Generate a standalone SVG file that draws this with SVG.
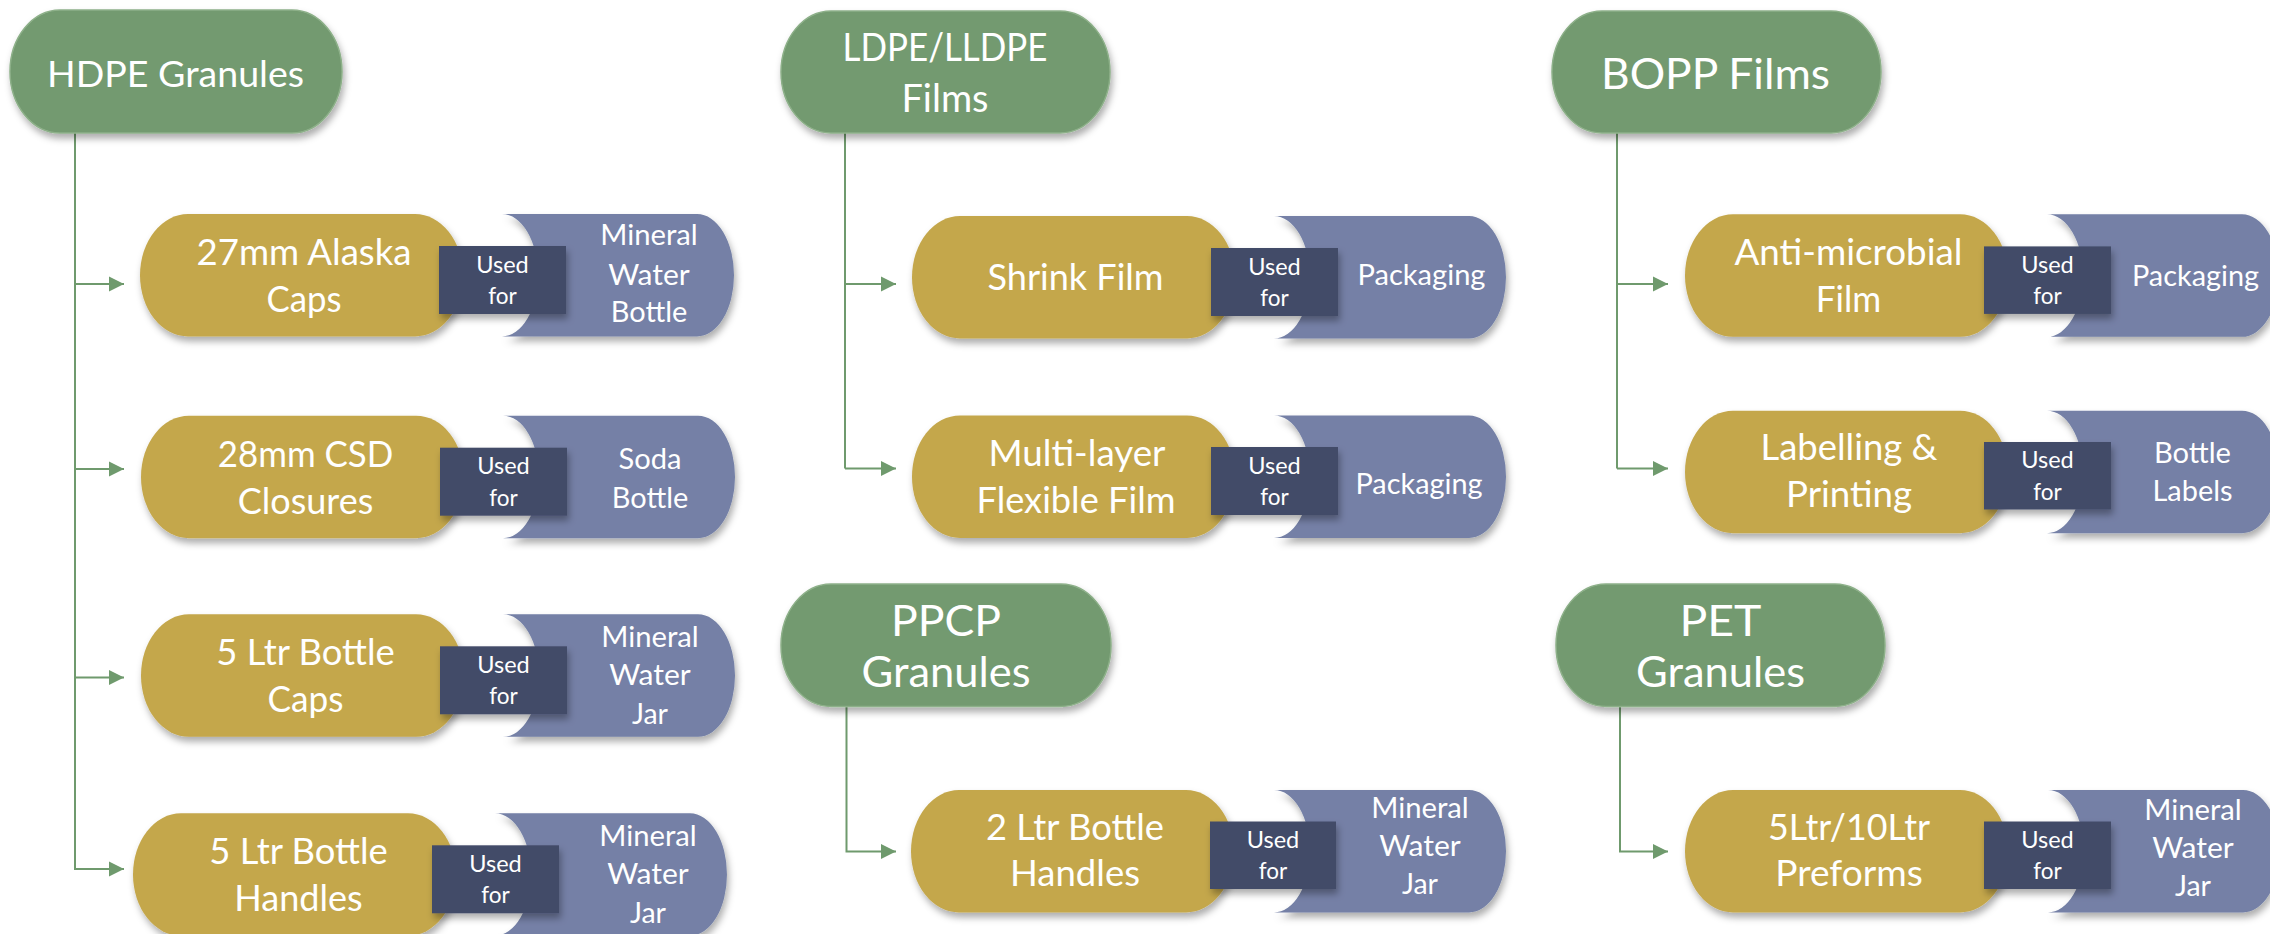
<svg xmlns="http://www.w3.org/2000/svg" width="2270" height="934" viewBox="0 0 2270 934">
<defs>
<style>
.hdr{fill:#739A70;stroke:#8DB089;stroke-width:1.5}
.gold{fill:#C4A74C}
.blue{fill:#7480A6}
.box{fill:#424B68}
.t{font-family:Lato,"Liberation Sans",sans-serif;fill:#FFFFFF;text-anchor:middle}
.tg{font-size:37px}
.tb{font-size:29px}
.tu{font-size:23.5px}
.con{fill:none;stroke:#6F9A6D;stroke-width:2}
</style>
<filter id="sh" x="-10%" y="-10%" width="125%" height="140%">
<feDropShadow dx="2" dy="5" stdDeviation="3.5" flood-color="#000" flood-opacity="0.32"/>
</filter>
<marker id="ah" markerUnits="userSpaceOnUse" markerWidth="16" markerHeight="16" refX="15" refY="8" orient="auto">
<path d="M0,0.5 L15,8 L0,15.5 Z" fill="#6F9A6D"/>
</marker>
</defs>
<rect width="2270" height="934" fill="#FFFFFF"/>

<g id="connectors">
<path class="con" d="M75,133 V869 H108"/>
<path class="con" d="M75,284 H124" marker-end="url(#ah)"/>
<path class="con" d="M75,469 H124" marker-end="url(#ah)"/>
<path class="con" d="M75,677.5 H124" marker-end="url(#ah)"/>
<path class="con" d="M75,869 H124" marker-end="url(#ah)"/>
<path class="con" d="M845,133 V468.6"/>
<path class="con" d="M845,284 H896" marker-end="url(#ah)"/>
<path class="con" d="M845,468.6 H896" marker-end="url(#ah)"/>
<path class="con" d="M1617,133 V468.6"/>
<path class="con" d="M1617,284 H1668" marker-end="url(#ah)"/>
<path class="con" d="M1617,468.6 H1668" marker-end="url(#ah)"/>
<path class="con" d="M846.5,706 V851.5 H896" marker-end="url(#ah)"/>
<path class="con" d="M1620,706 V851.5 H1668" marker-end="url(#ah)"/>
</g>

<g id="hdpe">
<rect class="hdr" filter="url(#sh)" x="10" y="10" width="332" height="123" rx="50" ry="61.5"/>
<text class="t" font-size="37" x="175.5" y="87" textLength="257" lengthAdjust="spacingAndGlyphs">HDPE Granules</text>
</g>
<g id="ldpe">
<rect class="hdr" filter="url(#sh)" x="781" y="11" width="329" height="122" rx="50" ry="61"/>
<text class="t" font-size="39" x="945" y="61" textLength="205" lengthAdjust="spacingAndGlyphs">LDPE/LLDPE</text>
<text class="t" font-size="39" x="945" y="112" textLength="87" lengthAdjust="spacingAndGlyphs">Films</text>
</g>
<g id="bopp">
<rect class="hdr" filter="url(#sh)" x="1552" y="11" width="329" height="122" rx="50" ry="61"/>
<text class="t" font-size="42" x="1715.5" y="88.5" textLength="229" lengthAdjust="spacingAndGlyphs">BOPP Films</text>
</g>
<g id="ppcp">
<rect class="hdr" filter="url(#sh)" x="781" y="584" width="330" height="122.5" rx="50" ry="61"/>
<text class="t" font-size="42" x="946" y="635.5" textLength="110" lengthAdjust="spacingAndGlyphs">PPCP</text>
<text class="t" font-size="42" x="946" y="687" textLength="169" lengthAdjust="spacingAndGlyphs">Granules</text>
</g>
<g id="pet">
<rect class="hdr" filter="url(#sh)" x="1556" y="584" width="329" height="122.5" rx="50" ry="61"/>
<text class="t" font-size="42" x="1720.5" y="635.5" textLength="82" lengthAdjust="spacingAndGlyphs">PET</text>
<text class="t" font-size="42" x="1720.5" y="687" textLength="169" lengthAdjust="spacingAndGlyphs">Granules</text>
</g>

<g id="alaska">
<rect class="gold" filter="url(#sh)" x="140" y="214" width="323" height="122.5" rx="48" ry="61.25"/>
<path class="blue" filter="url(#sh)" d="M502,214 H697 A37,61.25 0 0 1 697,336.5 H502 A36,61.25 0 0 0 502,214 Z"/>
<rect class="box" filter="url(#sh)" x="439" y="246" width="127" height="68"/>
<text class="t tg" x="304" y="265" textLength="215" lengthAdjust="spacingAndGlyphs">27mm Alaska</text>
<text class="t tg" x="304" y="311.5" textLength="75" lengthAdjust="spacingAndGlyphs">Caps</text>
<text class="t tu" x="502.5" y="272.5" textLength="52.5" lengthAdjust="spacingAndGlyphs">Used</text>
<text class="t tu" x="502.5" y="304" textLength="28.5" lengthAdjust="spacingAndGlyphs">for</text>
<text class="t tb" x="649" y="245" textLength="97.5" lengthAdjust="spacingAndGlyphs">Mineral</text>
<text class="t tb" x="649" y="284.5" textLength="81.5" lengthAdjust="spacingAndGlyphs">Water</text>
<text class="t tb" x="649" y="322" textLength="76.5" lengthAdjust="spacingAndGlyphs">Bottle</text>
</g>

<g id="csd">
<rect class="gold" filter="url(#sh)" x="141" y="415.7" width="323" height="122.5" rx="48" ry="61.25"/>
<path class="blue" filter="url(#sh)" d="M503,415.7 H698 A37,61.25 0 0 1 698,538.2 H503 A36,61.25 0 0 0 503,415.7 Z"/>
<rect class="box" filter="url(#sh)" x="440" y="447.7" width="127" height="68"/>
<text class="t tg" x="305.5" y="466.7" textLength="175.5" lengthAdjust="spacingAndGlyphs">28mm CSD</text>
<text class="t tg" x="305.5" y="513.5" textLength="135.5" lengthAdjust="spacingAndGlyphs">Closures</text>
<text class="t tu" x="503.5" y="474.4" textLength="52.5" lengthAdjust="spacingAndGlyphs">Used</text>
<text class="t tu" x="503.5" y="505.7" textLength="28.5" lengthAdjust="spacingAndGlyphs">for</text>
<text class="t tb" x="650" y="469" textLength="63" lengthAdjust="spacingAndGlyphs">Soda</text>
<text class="t tb" x="650" y="508" textLength="76.5" lengthAdjust="spacingAndGlyphs">Bottle</text>
</g>

<g id="caps5">
<rect class="gold" filter="url(#sh)" x="141" y="614.3" width="323" height="122.5" rx="48" ry="61.25"/>
<path class="blue" filter="url(#sh)" d="M503,614.3 H698 A37,61.25 0 0 1 698,736.8 H503 A36,61.25 0 0 0 503,614.3 Z"/>
<rect class="box" filter="url(#sh)" x="440" y="646.3" width="127" height="68"/>
<text class="t tg" x="305.5" y="665.3" textLength="178.5" lengthAdjust="spacingAndGlyphs">5 Ltr Bottle</text>
<text class="t tg" x="305.5" y="712" textLength="76" lengthAdjust="spacingAndGlyphs">Caps</text>
<text class="t tu" x="503.5" y="673" textLength="52.5" lengthAdjust="spacingAndGlyphs">Used</text>
<text class="t tu" x="503.5" y="704.3" textLength="28.5" lengthAdjust="spacingAndGlyphs">for</text>
<text class="t tb" x="650" y="646.5" textLength="97.5" lengthAdjust="spacingAndGlyphs">Mineral</text>
<text class="t tb" x="650" y="685" textLength="81.5" lengthAdjust="spacingAndGlyphs">Water</text>
<text class="t tb" x="650" y="723.5" textLength="36" lengthAdjust="spacingAndGlyphs">Jar</text>
</g>

<g id="handles5">
<rect class="gold" filter="url(#sh)" x="133" y="813.3" width="323" height="122.5" rx="48" ry="61.25"/>
<path class="blue" filter="url(#sh)" d="M495,813.3 H690 A37,61.25 0 0 1 690,935.8 H495 A36,61.25 0 0 0 495,813.3 Z"/>
<rect class="box" filter="url(#sh)" x="432" y="845.3" width="127" height="68"/>
<text class="t tg" x="298.5" y="864.3" textLength="178.5" lengthAdjust="spacingAndGlyphs">5 Ltr Bottle</text>
<text class="t tg" x="298.5" y="911" textLength="128.5" lengthAdjust="spacingAndGlyphs">Handles</text>
<text class="t tu" x="495.5" y="872" textLength="52.5" lengthAdjust="spacingAndGlyphs">Used</text>
<text class="t tu" x="495.5" y="903.3" textLength="28.5" lengthAdjust="spacingAndGlyphs">for</text>
<text class="t tb" x="648" y="845.5" textLength="97.5" lengthAdjust="spacingAndGlyphs">Mineral</text>
<text class="t tb" x="648" y="884" textLength="81.5" lengthAdjust="spacingAndGlyphs">Water</text>
<text class="t tb" x="648" y="922.5" textLength="36" lengthAdjust="spacingAndGlyphs">Jar</text>
</g>

<g id="shrink">
<rect class="gold" filter="url(#sh)" x="912" y="216" width="323" height="122.5" rx="48" ry="61.25"/>
<path class="blue" filter="url(#sh)" d="M1274,216 H1469 A37,61.25 0 0 1 1469,338.5 H1274 A36,61.25 0 0 0 1274,216 Z"/>
<rect class="box" filter="url(#sh)" x="1211" y="248" width="127" height="68"/>
<text class="t tg" x="1075.5" y="290" textLength="176" lengthAdjust="spacingAndGlyphs">Shrink Film</text>
<text class="t tu" x="1274.5" y="274.7" textLength="52.5" lengthAdjust="spacingAndGlyphs">Used</text>
<text class="t tu" x="1274.5" y="306" textLength="28.5" lengthAdjust="spacingAndGlyphs">for</text>
<text class="t tb" x="1421.5" y="285" textLength="128" lengthAdjust="spacingAndGlyphs">Packaging</text>
</g>

<g id="multilayer">
<rect class="gold" filter="url(#sh)" x="912" y="415.4" width="323" height="122.5" rx="48" ry="61.25"/>
<path class="blue" filter="url(#sh)" d="M1274,415.4 H1469 A37,61.25 0 0 1 1469,537.9 H1274 A36,61.25 0 0 0 1274,415.4 Z"/>
<rect class="box" filter="url(#sh)" x="1211" y="447" width="127" height="68"/>
<text class="t tg" x="1077" y="465.5" textLength="177" lengthAdjust="spacingAndGlyphs">Multi-layer</text>
<text class="t tg" x="1076" y="512.5" textLength="199" lengthAdjust="spacingAndGlyphs">Flexible Film</text>
<text class="t tu" x="1274.5" y="473.7" textLength="52.5" lengthAdjust="spacingAndGlyphs">Used</text>
<text class="t tu" x="1274.5" y="505" textLength="28.5" lengthAdjust="spacingAndGlyphs">for</text>
<text class="t tb" x="1419" y="494" textLength="127" lengthAdjust="spacingAndGlyphs">Packaging</text>
</g>

<g id="antimicrobial">
<rect class="gold" filter="url(#sh)" x="1685" y="214.3" width="323" height="122.5" rx="48" ry="61.25"/>
<path class="blue" filter="url(#sh)" d="M2047,214.3 H2242 A37,61.25 0 0 1 2242,336.8 H2047 A36,61.25 0 0 0 2047,214.3 Z"/>
<rect class="box" filter="url(#sh)" x="1984" y="246.4" width="127" height="67.5"/>
<text class="t tg" x="1848.5" y="264.5" textLength="228" lengthAdjust="spacingAndGlyphs">Anti-microbial</text>
<text class="t tg" x="1848.5" y="312" textLength="65.5" lengthAdjust="spacingAndGlyphs">Film</text>
<text class="t tu" x="2047.5" y="272.7" textLength="52.5" lengthAdjust="spacingAndGlyphs">Used</text>
<text class="t tu" x="2047.5" y="304" textLength="28.5" lengthAdjust="spacingAndGlyphs">for</text>
<text class="t tb" x="2195.5" y="286" textLength="127" lengthAdjust="spacingAndGlyphs">Packaging</text>
</g>

<g id="labelling">
<rect class="gold" filter="url(#sh)" x="1685" y="410.7" width="323" height="122.5" rx="48" ry="61.25"/>
<path class="blue" filter="url(#sh)" d="M2047,410.7 H2242 A37,61.25 0 0 1 2242,533.2 H2047 A36,61.25 0 0 0 2047,410.7 Z"/>
<rect class="box" filter="url(#sh)" x="1984" y="442" width="127" height="67.5"/>
<text class="t tg" x="1849" y="460" textLength="177" lengthAdjust="spacingAndGlyphs">Labelling &amp;</text>
<text class="t tg" x="1849" y="507" textLength="126" lengthAdjust="spacingAndGlyphs">Printing</text>
<text class="t tu" x="2047.5" y="468.3" textLength="52.5" lengthAdjust="spacingAndGlyphs">Used</text>
<text class="t tu" x="2047.5" y="499.6" textLength="28.5" lengthAdjust="spacingAndGlyphs">for</text>
<text class="t tb" x="2192.5" y="463" textLength="77" lengthAdjust="spacingAndGlyphs">Bottle</text>
<text class="t tb" x="2192.5" y="501" textLength="80" lengthAdjust="spacingAndGlyphs">Labels</text>
</g>

<g id="handles2">
<rect class="gold" filter="url(#sh)" x="911" y="790" width="323" height="122.5" rx="48" ry="61.25"/>
<path class="blue" filter="url(#sh)" d="M1274,790 H1469 A37,61.25 0 0 1 1469,912.5 H1274 A36,61.25 0 0 0 1274,790 Z"/>
<rect class="box" filter="url(#sh)" x="1210" y="821.5" width="126" height="67.5"/>
<text class="t tg" x="1075" y="839.5" textLength="178" lengthAdjust="spacingAndGlyphs">2 Ltr Bottle</text>
<text class="t tg" x="1075" y="886" textLength="130" lengthAdjust="spacingAndGlyphs">Handles</text>
<text class="t tu" x="1273" y="848" textLength="52.5" lengthAdjust="spacingAndGlyphs">Used</text>
<text class="t tu" x="1273" y="879" textLength="28.5" lengthAdjust="spacingAndGlyphs">for</text>
<text class="t tb" x="1420" y="818" textLength="97.5" lengthAdjust="spacingAndGlyphs">Mineral</text>
<text class="t tb" x="1420" y="856" textLength="81.5" lengthAdjust="spacingAndGlyphs">Water</text>
<text class="t tb" x="1420" y="894" textLength="36" lengthAdjust="spacingAndGlyphs">Jar</text>
</g>

<g id="preforms">
<rect class="gold" filter="url(#sh)" x="1685" y="790" width="323" height="122.5" rx="48" ry="61.25"/>
<path class="blue" filter="url(#sh)" d="M2048,790 H2243 A37,61.25 0 0 1 2243,912.5 H2048 A36,61.25 0 0 0 2048,790 Z"/>
<rect class="box" filter="url(#sh)" x="1984" y="821.5" width="127" height="67.5"/>
<text class="t tg" x="1849" y="839.5" textLength="162" lengthAdjust="spacingAndGlyphs">5Ltr/10Ltr</text>
<text class="t tg" x="1849" y="886" textLength="147.5" lengthAdjust="spacingAndGlyphs">Preforms</text>
<text class="t tu" x="2047.5" y="848" textLength="52.5" lengthAdjust="spacingAndGlyphs">Used</text>
<text class="t tu" x="2047.5" y="879" textLength="28.5" lengthAdjust="spacingAndGlyphs">for</text>
<text class="t tb" x="2193" y="820" textLength="97.5" lengthAdjust="spacingAndGlyphs">Mineral</text>
<text class="t tb" x="2193" y="858" textLength="81.5" lengthAdjust="spacingAndGlyphs">Water</text>
<text class="t tb" x="2193" y="896" textLength="36" lengthAdjust="spacingAndGlyphs">Jar</text>
</g>
</svg>
